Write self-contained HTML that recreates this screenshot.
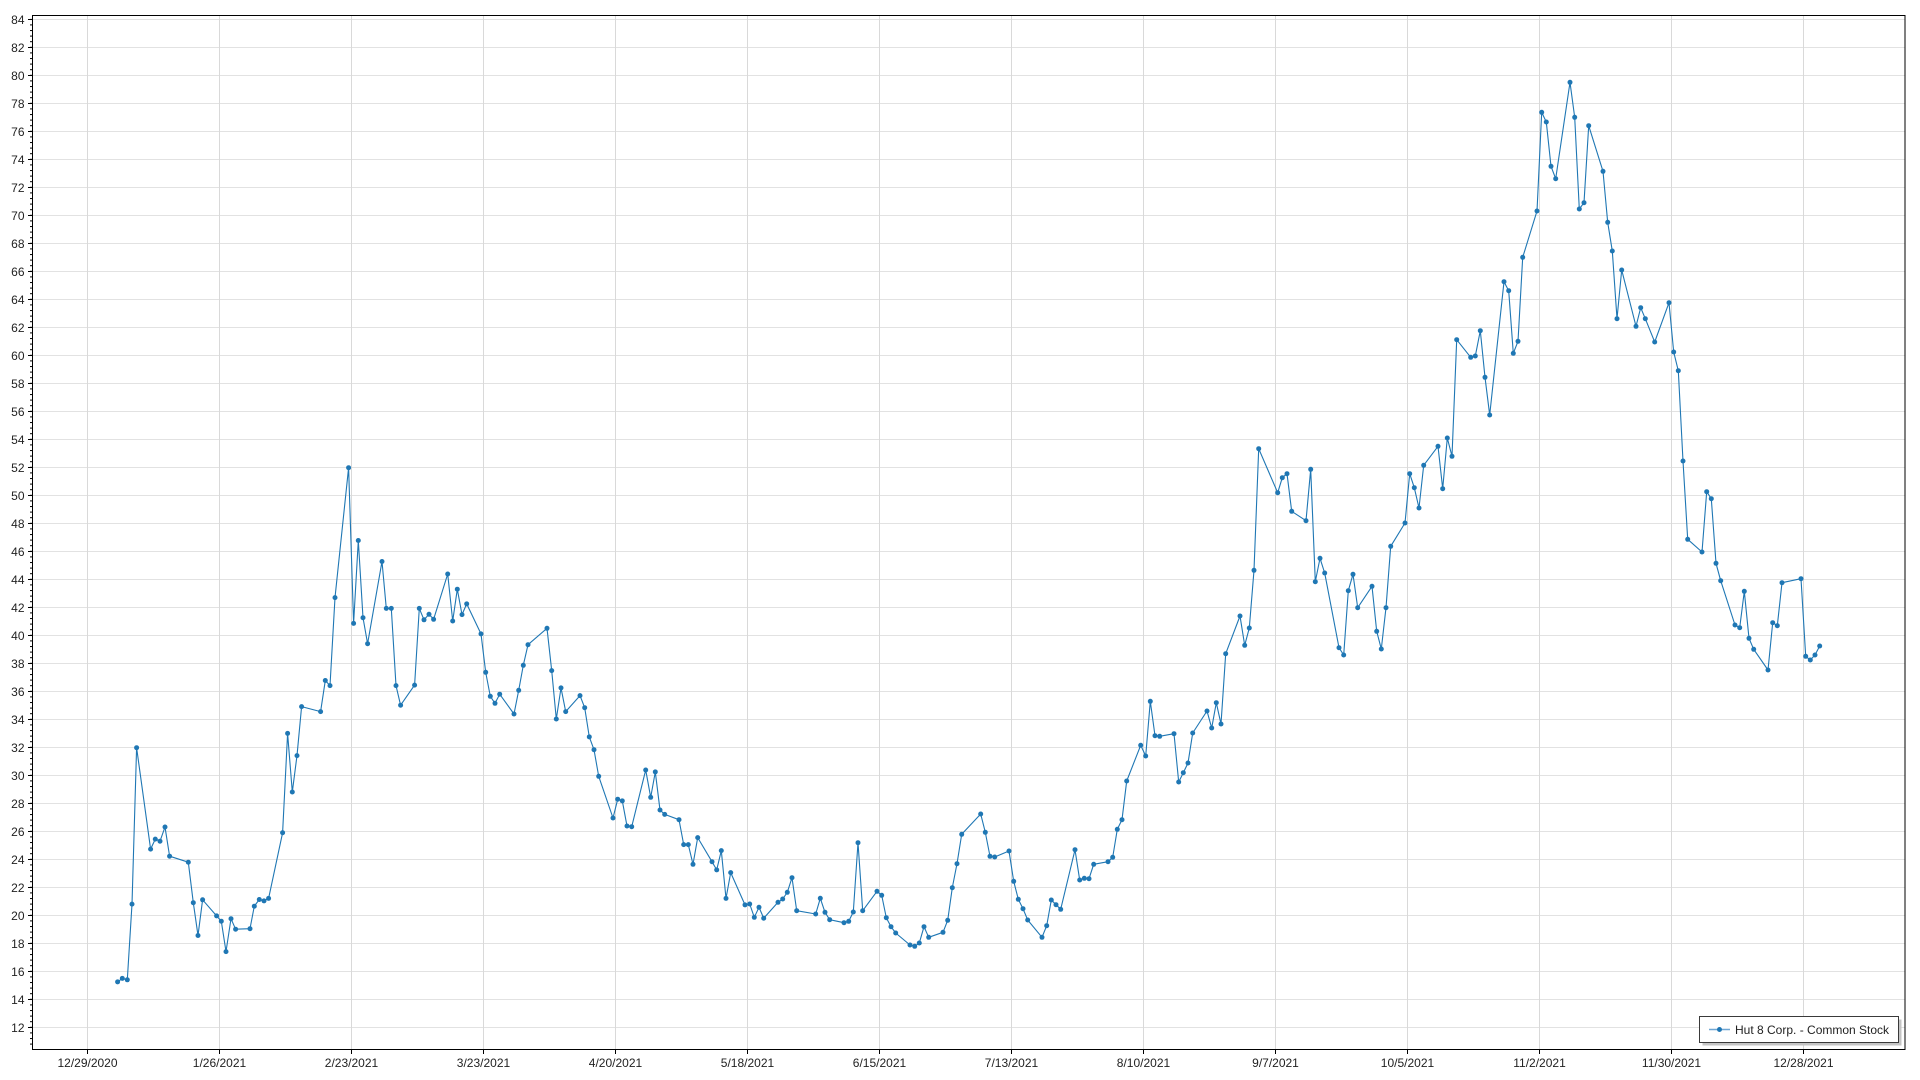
<!DOCTYPE html>
<html>
<head>
<meta charset="utf-8">
<style>
html,body{margin:0;padding:0;background:#fff;}
svg{display:block;}
text{font-family:"Liberation Sans",Arial,sans-serif;font-size:12px;fill:#222;}
</style>
</head>
<body>
<svg width="1920" height="1080" viewBox="0 0 1920 1080" xmlns="http://www.w3.org/2000/svg">
<defs>
<pattern id="minor" patternUnits="userSpaceOnUse" x="0" y="18.8" width="10" height="5.6">
<rect x="0" y="0" width="10" height="1" fill="#000"/>
</pattern>
<marker id="dot" viewBox="-3 -3 6 6" markerWidth="6" markerHeight="6" refX="0" refY="0" markerUnits="userSpaceOnUse">
<circle r="2.5" fill="#1f77b4"/>
</marker>
</defs>
<rect width="1920" height="1080" fill="#fff"/>

<!-- horizontal gridlines -->
<g stroke="#e2e2e2" stroke-width="1">
<path d="M33 19.5H1905M33 47.5H1905M33 75.5H1905M33 103.5H1905M33 131.5H1905M33 159.5H1905M33 187.5H1905M33 215.5H1905M33 243.5H1905M33 271.5H1905M33 299.5H1905M33 327.5H1905M33 355.5H1905M33 383.5H1905M33 411.5H1905M33 439.5H1905M33 467.5H1905M33 495.5H1905M33 523.5H1905M33 551.5H1905M33 579.5H1905M33 607.5H1905M33 635.5H1905M33 663.5H1905M33 691.5H1905M33 719.5H1905M33 747.5H1905M33 775.5H1905M33 803.5H1905M33 831.5H1905M33 859.5H1905M33 887.5H1905M33 915.5H1905M33 943.5H1905M33 971.5H1905M33 999.5H1905M33 1027.5H1905"/>
</g>
<!-- vertical gridlines -->
<g stroke="#d9d9d9" stroke-width="1">
<path d="M87.5 15V1049M219.5 15V1049M351.5 15V1049M483.5 15V1049M615.5 15V1049M747.5 15V1049M879.5 15V1049M1011.5 15V1049M1143.5 15V1049M1275.5 15V1049M1407.5 15V1049M1539.5 15V1049M1671.5 15V1049M1803.5 15V1049"/>
</g>

<!-- frame -->
<rect x="32.5" y="15.5" width="1872.5" height="1034" fill="none" stroke="#000" stroke-width="1"/>

<!-- minor y ticks -->
<rect x="30" y="18.8" width="2.5" height="1030" fill="url(#minor)"/>
<!-- major y ticks -->
<g stroke="#000" stroke-width="1">
<path d="M28 19.5h4.5M28 47.5h4.5M28 75.5h4.5M28 103.5h4.5M28 131.5h4.5M28 159.5h4.5M28 187.5h4.5M28 215.5h4.5M28 243.5h4.5M28 271.5h4.5M28 299.5h4.5M28 327.5h4.5M28 355.5h4.5M28 383.5h4.5M28 411.5h4.5M28 439.5h4.5M28 467.5h4.5M28 495.5h4.5M28 523.5h4.5M28 551.5h4.5M28 579.5h4.5M28 607.5h4.5M28 635.5h4.5M28 663.5h4.5M28 691.5h4.5M28 719.5h4.5M28 747.5h4.5M28 775.5h4.5M28 803.5h4.5M28 831.5h4.5M28 859.5h4.5M28 887.5h4.5M28 915.5h4.5M28 943.5h4.5M28 971.5h4.5M28 999.5h4.5M28 1027.5h4.5"/>
<path d="M87.5 1049.5v4.5M219.5 1049.5v4.5M351.5 1049.5v4.5M483.5 1049.5v4.5M615.5 1049.5v4.5M747.5 1049.5v4.5M879.5 1049.5v4.5M1011.5 1049.5v4.5M1143.5 1049.5v4.5M1275.5 1049.5v4.5M1407.5 1049.5v4.5M1539.5 1049.5v4.5M1671.5 1049.5v4.5M1803.5 1049.5v4.5"/>
</g>

<!-- y labels -->
<g text-anchor="end">
<text x="24.5" y="23.8">84</text>
<text x="24.5" y="51.8">82</text>
<text x="24.5" y="79.8">80</text>
<text x="24.5" y="107.8">78</text>
<text x="24.5" y="135.8">76</text>
<text x="24.5" y="163.8">74</text>
<text x="24.5" y="191.8">72</text>
<text x="24.5" y="219.8">70</text>
<text x="24.5" y="247.8">68</text>
<text x="24.5" y="275.8">66</text>
<text x="24.5" y="303.8">64</text>
<text x="24.5" y="331.8">62</text>
<text x="24.5" y="359.8">60</text>
<text x="24.5" y="387.8">58</text>
<text x="24.5" y="415.8">56</text>
<text x="24.5" y="443.8">54</text>
<text x="24.5" y="471.8">52</text>
<text x="24.5" y="499.8">50</text>
<text x="24.5" y="527.8">48</text>
<text x="24.5" y="555.8">46</text>
<text x="24.5" y="583.8">44</text>
<text x="24.5" y="611.8">42</text>
<text x="24.5" y="639.8">40</text>
<text x="24.5" y="667.8">38</text>
<text x="24.5" y="695.8">36</text>
<text x="24.5" y="723.8">34</text>
<text x="24.5" y="751.8">32</text>
<text x="24.5" y="779.8">30</text>
<text x="24.5" y="807.8">28</text>
<text x="24.5" y="835.8">26</text>
<text x="24.5" y="863.8">24</text>
<text x="24.5" y="891.8">22</text>
<text x="24.5" y="919.8">20</text>
<text x="24.5" y="947.8">18</text>
<text x="24.5" y="975.8">16</text>
<text x="24.5" y="1003.8">14</text>
<text x="24.5" y="1031.8">12</text>
</g>

<!-- x labels -->
<g text-anchor="middle">
<text x="87.5" y="1067">12/29/2020</text>
<text x="219.5" y="1067">1/26/2021</text>
<text x="351.5" y="1067">2/23/2021</text>
<text x="483.5" y="1067">3/23/2021</text>
<text x="615.5" y="1067">4/20/2021</text>
<text x="747.5" y="1067">5/18/2021</text>
<text x="879.5" y="1067">6/15/2021</text>
<text x="1011.5" y="1067">7/13/2021</text>
<text x="1143.5" y="1067">8/10/2021</text>
<text x="1275.5" y="1067">9/7/2021</text>
<text x="1407.5" y="1067">10/5/2021</text>
<text x="1539.5" y="1067">11/2/2021</text>
<text x="1671.5" y="1067">11/30/2021</text>
<text x="1803.5" y="1067">12/28/2021</text>
</g>

<!-- series -->
<polyline fill="none" stroke="#1f77b4" stroke-width="1.1" stroke-linejoin="round" marker-start="url(#dot)" marker-mid="url(#dot)" marker-end="url(#dot)" points="117.6,981.9 122.3,978.4 127.3,979.8 132.0,904.1 136.6,747.7 150.6,849.1 155.3,839.1 160.0,841.2 165.0,827.0 169.6,856.2 188.3,862.2 193.3,902.7 198.0,935.5 202.6,899.8 216.6,915.9 221.3,921.2 226.0,951.6 231.0,918.7 235.6,929.2 250.0,928.7 254.3,906.2 259.3,899.5 264.0,900.9 268.6,898.4 282.6,832.7 287.6,733.4 292.3,792.0 297.0,755.6 301.6,706.6 320.6,711.6 325.3,680.5 330.0,685.6 335.0,597.6 348.6,467.7 353.6,623.4 358.3,540.5 363.0,617.7 367.6,643.7 382.0,561.5 386.3,608.4 391.3,608.4 396.0,685.6 400.6,705.2 414.6,685.1 419.3,608.4 424.0,619.8 429.0,614.3 433.6,619.3 447.7,574.0 452.7,621.0 457.3,589.2 462.0,614.6 466.7,603.9 481.0,633.9 485.7,672.3 490.3,696.3 495.0,703.3 499.7,694.2 514.0,714.0 518.7,690.3 523.3,665.3 528.0,644.7 547.0,628.3 551.7,670.6 556.3,719.0 561.0,687.9 565.7,711.6 580.0,695.6 584.7,707.7 589.3,736.9 594.0,749.7 598.7,776.3 613.0,818.0 617.7,799.2 622.3,800.9 627.0,826.0 631.7,826.7 645.7,770.0 650.7,797.3 655.3,771.9 660.0,810.0 664.7,814.4 679.0,819.7 683.7,844.6 688.3,844.6 693.0,864.3 697.7,837.6 712.0,861.7 716.7,869.9 721.3,850.6 726.0,898.4 730.7,872.6 745.0,904.9 749.7,904.0 754.3,917.3 759.0,907.3 763.7,918.2 778.0,902.3 782.7,899.0 787.3,892.3 792.0,877.7 796.7,910.7 815.7,914.0 820.3,898.3 825.0,912.3 829.7,919.7 844.0,922.7 848.7,921.3 853.3,912.0 858.0,842.7 862.7,910.7 877.0,891.3 881.7,895.3 886.3,917.7 891.0,926.7 895.7,933.0 910.0,945.0 914.7,946.3 919.3,943.0 924.0,926.7 928.7,937.3 943.0,932.3 947.7,920.3 952.3,887.7 957.0,863.7 961.7,834.3 980.7,814.0 985.3,832.3 990.0,856.3 994.7,857.0 1009.0,851.0 1013.7,881.3 1018.3,899.3 1023.0,908.7 1027.7,920.0 1042.0,937.3 1046.7,925.7 1051.3,900.0 1056.0,904.7 1060.7,909.3 1075.0,849.7 1079.7,880.0 1084.3,878.3 1089.0,878.7 1093.7,864.3 1108.0,861.7 1112.7,857.3 1117.3,829.3 1122.0,819.7 1126.7,781.0 1140.7,745.3 1145.7,756.0 1150.3,701.3 1155.0,735.7 1159.7,736.3 1174.0,733.7 1178.7,782.0 1183.3,772.7 1188.0,763.0 1192.7,733.0 1207.0,711.0 1211.7,728.0 1216.3,702.7 1221.0,724.0 1225.7,653.7 1240.0,616.0 1244.7,645.3 1249.3,628.0 1254.0,570.3 1258.7,448.7 1277.7,492.7 1282.3,477.7 1287.0,473.7 1291.7,511.3 1306.0,520.7 1310.7,469.3 1315.3,581.7 1320.0,558.3 1324.7,573.0 1339.0,647.7 1343.7,655.0 1348.3,590.7 1353.0,574.3 1357.7,607.7 1372.0,586.3 1376.7,631.3 1381.3,649.0 1386.0,607.7 1390.7,546.3 1405.0,523.0 1409.7,473.7 1414.3,487.7 1419.0,508.0 1423.7,465.3 1438.0,446.3 1442.7,488.7 1447.3,438.0 1452.0,456.3 1456.7,339.7 1470.7,357.3 1475.3,356.0 1480.3,330.7 1485.0,377.3 1489.7,415.0 1504.0,281.7 1508.7,290.7 1513.3,353.3 1518.0,341.3 1522.7,257.3 1537.0,211.0 1541.7,112.3 1546.3,122.0 1551.0,166.3 1555.7,178.7 1570.0,82.3 1574.7,117.3 1579.3,209.0 1584.0,202.7 1588.7,125.7 1603.0,171.3 1607.7,222.3 1612.3,251.0 1617.0,318.7 1621.7,270.0 1636.0,326.3 1640.7,307.7 1645.3,318.7 1654.7,342.0 1669.0,302.7 1673.7,352.0 1678.3,370.7 1683.0,461.0 1687.7,539.3 1702.0,552.0 1706.7,491.7 1711.3,498.7 1716.0,563.3 1720.7,580.7 1735.0,625.0 1739.7,627.7 1744.3,591.3 1749.0,638.3 1753.7,649.3 1768.0,670.0 1772.7,622.7 1777.3,625.7 1782.0,582.7 1801.0,578.7 1805.7,656.3 1810.3,660.0 1815.0,655.0 1819.7,646.0"/>

<!-- legend -->
<rect x="1702.5" y="1019.5" width="199" height="26" fill="#c4c4c4"/>
<rect x="1699.5" y="1016.5" width="199" height="26" fill="#fff" stroke="#3a3a3a" stroke-width="1"/>
<line x1="1709" y1="1029.5" x2="1730" y2="1029.5" stroke="#6fa6d3" stroke-width="1.5"/>
<circle cx="1719.5" cy="1029.5" r="2.5" fill="#1f77b4"/>
<text x="1735" y="1033.8">Hut 8 Corp. - Common Stock</text>
</svg>
</body>
</html>
